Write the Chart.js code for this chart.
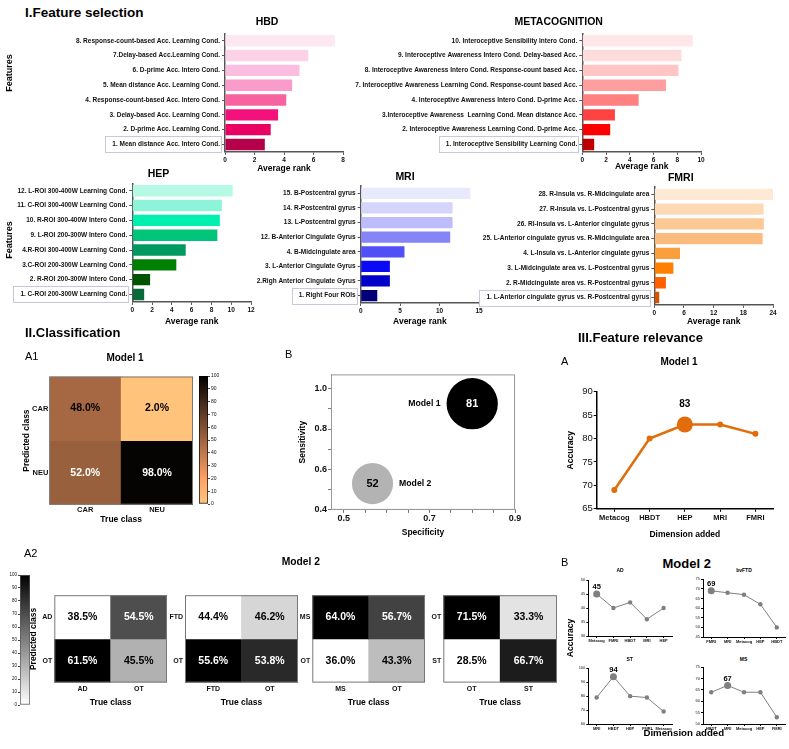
<!DOCTYPE html>
<html><head><meta charset="utf-8">
<script src="https://cdn.jsdelivr.net/npm/chart.js@4.4.0/dist/chart.umd.min.js"></script>
<style>
body{margin:0;background:#fff;width:789px;height:749px;position:relative;overflow:hidden;font-family:'Liberation Sans',Arial,sans-serif}
.c{position:absolute}
.t{position:absolute;white-space:nowrap;color:#000;line-height:1}
</style></head><body>
<script>
// ---- data ----
const hbdLabels=['8. Response-count-based Acc. Learning Cond.','7.Delay-based Acc.Learning Cond.','6. D-prime Acc. Intero Cond.','5. Mean distance Acc. Learning Cond.','4. Response-count-based Acc. Intero Cond.','3. Delay-based Acc. Learning Cond.','2. D-prime Acc. Learning Cond.','1. Mean distance Acc. Intero Cond.'];
const hbdRank=[7.45,5.65,5.05,4.55,4.15,3.6,3.1,2.7];
const metaLabels=['10. Interoceptive Sensibility Intero Cond.','9. Interoceptive Awareness Intero Cond. Delay-based Acc.','8. Interoceptive Awareness Intero Cond. Response-count based Acc.','7. Interoceptive Awareness Learning Cond. Response-count based Acc.','4. Interoceptive Awareness Intero Cond. D-prime Acc.','3.Interoceptive Awareness  Learning Cond. Mean distance Acc.','2. Interoceptive Awareness Learning Cond. D-prime Acc.','1. Interoceptive Sensibility Learning Cond.'];
const metaRank=[9.3,8.35,8.1,7.05,4.75,2.75,2.35,1.0];
const hepLabels=['12. L-ROI 300-400W Learning Cond.','11. C-ROI 300-400W Learning Cond.','10. R-ROI 300-400W Intero Cond.','9. L-ROI 200-300W Intero Cond.','4.R-ROI 300-400W Learning Cond.','3.C-ROI 200-300W Learning Cond.','2. R-ROI 200-300W Intero Cond.','1. C-ROI 200-300W Learning Cond.'];
const hepRank=[10.15,9.05,8.85,8.6,5.4,4.45,1.8,1.2];
const mriLabels=['15. B-Postcentral gyrus','14. R-Postcentral gyrus','13. L-Postcentral gyrus','12. B-Anterior Cingulate Gyrus','4. B-Midcingulate area','3. L-Anterior Cingulate Gyrus','2.Righ Anterior Cingulate Gyrus','1. Right Four ROIs'];
const mriRank=[13.9,11.65,11.65,11.35,5.55,3.7,3.7,2.1];
const fmriLabels=['28. R-Insula vs. R-Midcingulate area','27. R-Insula vs. L-Postcentral gyrus','26. RI-Insula vs. L-Anterior cingulate gyrus','25. L-Anterior cingulate gyrus vs. R-Midcingulate area','4. L-Insula vs. L-Anterior cingulate gyrus','3. L-Midcingulate area vs. L-Postcentral gyrus','2. R-Midcingulate area vs. R-Postcentral gyrus','1. L-Anterior cingulate gyrus vs. R-Postcentral gyrus'];
const fmriRank=[24.0,22.1,22.15,21.9,5.2,3.85,2.35,1.0];

const m1Classes=['CAR','NEU'];
const m1Cm=[[48.0,2.0],[52.0,98.0]];
const adClasses=['AD','OT'], adCm=[[38.5,54.5],[61.5,45.5]];
const ftdClasses=['FTD','OT'], ftdCm=[[44.4,46.2],[55.6,53.8]];
const msClasses=['MS','OT'], msCm=[[64.0,56.7],[36.0,43.3]];
const stClasses=['OT','ST'], stCm=[[71.5,33.3],[28.5,66.7]];
const cbarTicks=[0,10,20,30,40,50,60,70,80,90,100];

const bubbleModels=['Model 1','Model 2'];
const specificity=[0.80,0.567];
const sensitivity=[0.925,0.53];
const accuracy=[81,52];
const specTicks=[0.5,0.7,0.9];
const sensTicks=[0.4,0.6,0.8,1.0];

const m1Dims=['Metacog','HBDT','HEP','MRI','FMRI'], m1Acc=[69,80,83,83,81];
const adDims=['Metacog','FMRI','HBDT','MRI','HEP'], adAcc=[45,40,42,36,40];
const ftdDims=['FMRI','MRI','Metacog','HEP','HBDT'], ftdAcc=[69,68,67,62,50];
const stDims=['MRI','HBDT','HEP','FMRI','Metacog'], stAcc=[79,94,80,79,69];
const msDims=['HBDT','MRI','Metacog','HEP','FMRI'], msAcc=[64,67,64,64,53];

// ---- colours ----
const hbdCol=['#fde8f2','#fcd2e6','#fbbde0','#f99ccb','#f7639f','#f4117d','#e90063','#b5004c'];
const metaCol=['#ffe6e8','#ffdcdc','#ffc5c5','#ff9e9e','#ff8080','#ff4343','#ff0000','#c00000'];
const hepCol=['#b3f9e4','#8ef4d9','#00f0b0','#00c479','#009a60','#008000','#005400','#0a6a3c'];
const mriCol=['#e9e9fd','#d5d5fc','#bdbdfb','#8585f8','#5050f7','#0a0af5','#0000c8','#000078'];
const fmriCol=['#fee9d4','#fdd9b6','#fcc894','#fbbb7e','#fb9f3e','#ff7f00','#ff6000','#d35400'];

const LS="'Liberation Sans', Arial, sans-serif";
Chart.defaults.font.family=LS;
Chart.defaults.color='#111';
Chart.defaults.animation=false;
Chart.defaults.responsive=false;
Chart.defaults.layout.autoPadding=false;
Chart.defaults.plugins.legend.display=false;
Chart.defaults.plugins.tooltip.enabled=false;

function mk(l,t,w,h){const c=document.createElement('canvas');c.width=Math.round(w);c.height=Math.round(h);c.className='c';c.style.left=l+'px';c.style.top=t+'px';document.body.appendChild(c);return c;}
function txt(s,x,y,size,o={}){const d=document.createElement('div');d.className='t';d.textContent=s;d.style.fontSize=size+'px';d.style.fontWeight=o.normal?'normal':'bold';d.style.left=x+'px';d.style.top=y+'px';d.style.transform=`translate(${o.align==='l'?'0':'-50%'},-50%)`+(o.rot?' rotate(-90deg)':'');document.body.appendChild(d);}

// ---- plugins ----
const boxLast={id:'boxLast',afterDraw(c){const s=c.scales.y,ctx=c.ctx,i=s.ticks.length-1,y=s.getPixelForTick(i);ctx.save();ctx.font=`bold 6.5px ${LS}`;const w=ctx.measureText(c.data.labels[i]).width;const r=s.right-3;ctx.strokeStyle='#c6c9dc';ctx.lineWidth=1;ctx.strokeRect(Math.round(r-w-9)+.5,Math.round(y-8)+.5,Math.round(w+8),16);ctx.restore();}};
const frame={id:'frame',afterDatasetsDraw(c,a,o){if(!o.color)return;const {left,top,right,bottom}=c.chartArea,ctx=c.ctx;ctx.save();ctx.strokeStyle=o.color;ctx.lineWidth=1;ctx.strokeRect(left+.5,top+.5,right-left-1,bottom-top-1);ctx.restore();}};
const cellText={id:'cellText',afterDatasetsDraw(c){const ctx=c.ctx;ctx.save();ctx.font=`bold 10.5px ${LS}`;ctx.textAlign='center';ctx.textBaseline='middle';c.data.datasets.forEach((d,i)=>c.getDatasetMeta(i).data.forEach((el,j)=>{ctx.fillStyle=d.txt[j];ctx.fillText(d.pct[j].toFixed(1)+'%',el.x,(el.y+el.base)/2);}));ctx.restore();}};
const bubbleTxt={id:'bubbleTxt',afterDatasetsDraw(c){const ctx=c.ctx,ds=c.data.datasets[0],mid=(c.chartArea.left+c.chartArea.right)/2;ctx.save();ctx.textBaseline='middle';c.getDatasetMeta(0).data.forEach((el,i)=>{const r=el.options.radius;ctx.font=`bold 11px ${LS}`;ctx.textAlign='center';ctx.fillStyle=ds.txtColor[i];ctx.fillText(accuracy[i],el.x,el.y);const side=el.x>mid?-1:1;ctx.font=`bold 8.7px ${LS}`;ctx.fillStyle='#000';ctx.textAlign=side<0?'right':'left';ctx.fillText(bubbleModels[i],el.x+side*(r+6),el.y);});ctx.restore();}};
const bestLbl={id:'bestLbl',afterDatasetsDraw(c,a,o){const d=c.data.datasets[0].data,i=d.indexOf(Math.max(...d)),el=c.getDatasetMeta(0).data[i],ctx=c.ctx;ctx.save();ctx.font=`bold ${o.size}px ${LS}`;ctx.fillStyle='#000';ctx.textAlign='center';ctx.textBaseline='middle';ctx.fillText(d[i],el.x,el.y-o.off);ctx.restore();}};

// ---- horizontal rank bars ----
function hbar(labels,values,colors,o){
  const padR=8,top=Math.round(o.T-8),axH=o.gap+5.1;
  const cv=mk(o.left,top,o.R+padR-o.left,o.B-top+axH);
  new Chart(cv,{type:'bar',
    data:{labels,datasets:[{data:values,backgroundColor:colors,barPercentage:.77,categoryPercentage:1}]},
    options:{indexAxis:'y',layout:{padding:{top:o.T-top,right:padR}},
      scales:{
        x:{min:0,max:o.max,ticks:{stepSize:o.step,font:{size:6.5,weight:'bold'},padding:1,maxRotation:0},
          grid:{drawOnChartArea:false,tickLength:3,color:'#555'},border:{color:'#555',width:1.5},
          title:{display:true,text:'Average rank',font:{size:8.5,weight:'bold'},color:'#000',padding:0},
          afterFit:s=>{s.height=axH}},
        y:{ticks:{font:{size:6.5,weight:'bold'},padding:2,autoSkip:false},
          grid:{offset:false,drawOnChartArea:false,tickLength:3,color:'#555'},border:{color:'#555',width:1.5},
          afterFit:s=>{s.width=o.L-o.left}}
      }},plugins:[boxLast]});
}
hbar(hbdLabels,hbdRank,hbdCol,{L:225,R:343,T:33.3,B:151.4,left:0,max:8,step:2,gap:17});
hbar(metaLabels,metaRank,metaCol,{L:582.3,R:700.7,T:33.3,B:151.4,left:350,max:10,step:2,gap:15});
hbar(hepLabels,hepRank,hepCol,{L:132.3,R:250.7,T:183.3,B:301.7,left:10,max:12,step:2,gap:20});
hbar(mriLabels,mriRank,mriCol,{L:360.7,R:479,T:186,B:303.3,left:250,max:15,step:5,gap:19});
hbar(fmriLabels,fmriRank,fmriCol,{L:654.3,R:772.7,T:187,B:305,left:478,max:24,step:6,gap:17});

// ---- confusion matrices ----
function copper(v){const x=1-v/100;return `rgb(${Math.round(255*Math.min(1,1.25*x))},${Math.round(255*.7812*x)},${Math.round(255*.4975*x)})`;}
function cmat(rows,cm,colorOf,textOf,o){
  const top=Math.round(o.T-4),left=Math.round(o.left),n=rows.length;
  const cv=mk(left,top,o.R+4-left,o.B-top+o.axH);
  new Chart(cv,{type:'bar',
    data:{labels:rows,datasets:rows.map((r,i)=>({data:rows.map(()=>[n-1-i,n-i]),pct:cm[i],backgroundColor:cm[i].map(colorOf),txt:cm[i].map(textOf)}))},
    options:{layout:{padding:{top:o.T-top,right:4}},
      datasets:{bar:{grouped:false,barPercentage:1,categoryPercentage:1,borderWidth:0}},
      plugins:{frame:{color:'#777'}},
      scales:{
        x:{ticks:{font:{size:o.tick,weight:'bold'},padding:o.xpad,maxRotation:0},grid:{display:false,drawTicks:false},border:{display:false},
          title:{display:true,text:'True class',font:{size:8.5,weight:'bold'},color:'#000',padding:0},afterFit:s=>{s.height=o.axH}},
        y:{min:0,max:n,afterBuildTicks:s=>{s.ticks=rows.map((r,i)=>({value:n-i-.5}))},
          ticks:{callback:v=>rows[n-1-Math.floor(v)],font:{size:o.tick,weight:'bold'},padding:o.ypad,autoSkip:false},
          grid:{display:false,drawTicks:false},border:{display:false},
          title:{display:!!o.ytitle,text:'Predicted class',font:{size:8.5,weight:'bold'},color:'#000',padding:0},
          afterFit:s=>{s.width=o.L-left}}
      }},plugins:[frame,cellText]});
}
cmat(m1Classes,m1Cm,copper,v=>v>50?'#fff':'#000',{L:49.3,R:193.3,T:375,B:504.3,left:21.6,axH:20.3,tick:7.5,xpad:1,ypad:1,ytitle:true});
function grayMat(rows,cm,o){
  const all=cm.flat(),mn=Math.min(...all),mx=Math.max(...all);
  const t=v=>(v-mn)/(mx-mn);
  cmat(rows,cm,v=>{const g=Math.round(255*(1-t(v)));return `rgb(${g},${g},${g})`;},v=>t(v)>.5?'#fff':'#000',Object.assign({T:593.3,B:682.7,axH:25.4,tick:7,xpad:2,ypad:2},o));
}
grayMat(adClasses,adCm,{L:54.3,R:166.7,left:28.9,ytitle:true});
grayMat(ftdClasses,ftdCm,{L:185,R:298.3,left:160});
grayMat(msClasses,msCm,{L:312.3,R:425,left:290});
grayMat(stClasses,stCm,{L:443.3,R:556.7,left:420});

// ---- colour bars ----
function cbar(o,stops){
  const top=Math.round(o.T-5);
  const cv=mk(o.left,top,o.w,o.B-top+5);
  new Chart(cv,{type:'bar',data:{labels:[''],datasets:[{data:[[0,100]],
      backgroundColor:ctx=>{const ca=ctx.chart.chartArea;if(!ca)return null;const g=ctx.chart.ctx.createLinearGradient(0,ca.bottom,0,ca.top);stops.forEach(([p,c])=>g.addColorStop(p,c));return g;},
      borderColor:o.border,borderWidth:1,borderSkipped:false,barPercentage:1,categoryPercentage:1}]},
    options:{layout:{padding:{top:o.T-top,bottom:5}},
      scales:{x:{display:false},y:{position:o.side,min:0,max:100,afterBuildTicks:s=>{s.ticks=cbarTicks.map(v=>({value:v}))},ticks:{font:{size:o.fs},padding:1},
        grid:{drawOnChartArea:false,tickLength:2,color:'#444'},border:{display:false},afterFit:s=>{s.width=o.axW}}}}});
}
cbar({left:199,T:376,B:504,w:23,axW:14,side:'right',fs:5,border:'#000'},cbarTicks.map(v=>[v/100,copper(v)]));
cbar({left:6,T:575,B:705,w:24,axW:14,side:'left',fs:4.5,border:'#555'},[[0,'#fff'],[1,'#000']]);

// ---- bubble chart ----
const minorX=[.5,.55,.6,.65,.7,.75,.8,.85,.9], minorY=[.4,.5,.6,.7,.8,.9,1];
const isMajor=(arr,v)=>arr.some(m=>Math.abs(m-v)<1e-6);
new Chart(mk(298,368,225,170),{type:'bubble',
  data:{datasets:[{data:bubbleModels.map((m,i)=>({x:specificity[i],y:sensitivity[i],r:2.85*Math.sqrt(accuracy[i])})),backgroundColor:['#000','#b3b3b3'],borderWidth:0,txtColor:['#fff','#000']}]},
  options:{layout:{padding:{top:2,right:8}},plugins:{frame:{color:'#999'}},
    scales:{
      x:{type:'linear',min:.47,max:.9,afterBuildTicks:s=>{s.ticks=minorX.map(v=>({value:v}))},
        ticks:{callback:v=>isMajor(specTicks,v)?v.toFixed(1):'',font:{size:9,weight:'bold'},padding:0,autoSkip:false,maxRotation:0},
        grid:{drawOnChartArea:false,tickLength:3,color:'#777'},border:{color:'#999'},
        title:{display:true,text:'Specificity',font:{size:8.5,weight:'bold'},color:'#000',padding:0},afterFit:s=>{s.height=28.1}},
      y:{min:.4,max:1.07,afterBuildTicks:s=>{s.ticks=minorY.map(v=>({value:v}))},
        ticks:{callback:v=>isMajor(sensTicks,v)?v.toFixed(1):'',font:{size:9,weight:'bold'},padding:1,autoSkip:false},
        grid:{drawOnChartArea:false,tickLength:3,color:'#777'},border:{color:'#999'},
        title:{display:true,text:'Sensitivity',font:{size:8.5,weight:'bold'},color:'#000',padding:0},afterFit:s=>{s.width=33}}
    }},plugins:[frame,bubbleTxt]});

// ---- accuracy lines ----
function lineC(labels,values,o){
  const left=Math.round(o.left),top=Math.round(o.T-o.padT);
  const cv=mk(left,top,o.R+2-left,o.B-top+o.axH);
  const best=values.indexOf(Math.max(...values));
  new Chart(cv,{type:'line',
    data:{labels,datasets:[{data:values,borderColor:o.color,backgroundColor:o.color,borderWidth:o.lw,pointRadius:values.map((v,i)=>i===best?o.big:o.small),pointBorderWidth:0,tension:0,clip:false}]},
    options:{layout:{padding:{top:o.T-top,right:2}},plugins:{bestLbl:{size:o.lbl,off:o.off}},
      scales:{
        x:{offset:true,ticks:{font:{size:o.xfs,weight:'bold'},padding:o.xpad,autoSkip:false,maxRotation:0},
          grid:{offset:false,drawOnChartArea:false,tickLength:o.tl,color:'#000'},border:{color:'#000',width:o.bw},
          title:{display:!!o.xt,text:o.xt||'',font:{size:8.5,weight:'bold'},color:'#000',padding:0},afterFit:s=>{s.height=o.axH}},
        y:{min:o.min,max:o.max,ticks:{stepSize:o.step,font:{size:o.yfs},padding:o.ypad},
          grid:{drawOnChartArea:false,tickLength:o.tl,color:'#000'},border:{color:'#000',width:o.bw},
          title:{display:!!o.yt,text:o.yt||'',font:{size:8.5,weight:'bold'},color:'#000',padding:0},afterFit:s=>{s.width=o.L-left}}
      }},plugins:[bestLbl]});
}
lineC(m1Dims,m1Acc,{L:596.7,R:773,T:391.7,B:508.3,left:565.6,padT:7,axH:31.2,min:65,max:90,step:5,
  color:'#e36c0a',lw:2.5,big:8,small:3,lbl:10,off:20,xfs:7.5,yfs:9.5,xpad:2,ypad:1,tl:3,bw:1.5,xt:'Dimension added',yt:'Accuracy'});
const small={padT:4,axH:8,color:'#7f7f7f',lw:1,big:3.5,small:2.2,lbl:7.5,off:7,xfs:4,yfs:4,xpad:0,ypad:1,tl:2,bw:1};
lineC(adDims,adAcc,Object.assign({},small,{L:588.3,R:671.7,T:580,B:636,left:576,min:30,max:50,step:5}));
lineC(ftdDims,ftdAcc,Object.assign({},small,{L:703,R:785,T:579.3,B:637.3,left:691,min:45,max:75,step:5}));
lineC(stDims,stAcc,Object.assign({},small,{L:588.3,R:671.7,T:668.3,B:724,left:576,min:60,max:100,step:10}));
lineC(msDims,msAcc,Object.assign({},small,{L:703,R:785,T:667.3,B:724,left:691,min:50,max:75,step:5}));

// ---- headings & shared labels ----
txt('I.Feature selection',25,13,13.5,{align:'l'});
txt('Features',9,73,9,{rot:true});
txt('Features',9,240,9,{rot:true});
txt('HBD',267,21,10.5);
txt('METACOGNITION',558.7,21,10.5);
txt('HEP',158.5,172.5,10.5);
txt('MRI',405,175.8,10.5);
txt('FMRI',680.8,176.8,10.5);
txt('II.Classification',25,332,13,{align:'l'});
txt('A1',25,356,11,{align:'l',normal:true});
txt('Model 1',125,358,10);
txt('B',285,354,11,{align:'l',normal:true});
txt('III.Feature relevance',578,337,13,{align:'l'});
txt('A',561,361,11,{align:'l',normal:true});
txt('Model 1',679,362,10);
txt('A2',24,552.5,11,{align:'l',normal:true});
txt('Model 2',300.8,562,10.3);
txt('B',561,562,11,{align:'l',normal:true});
txt('Model 2',686.7,563,13);
txt('AD',620,570,5);
txt('bvFTD',744,570,5);
txt('ST',629.7,659,5);
txt('MS',743.5,659,5);
txt('Accuracy',570,638,8.5,{rot:true});
txt('Dimension added',683.8,732.7,9.7);
</script>
</body></html>
